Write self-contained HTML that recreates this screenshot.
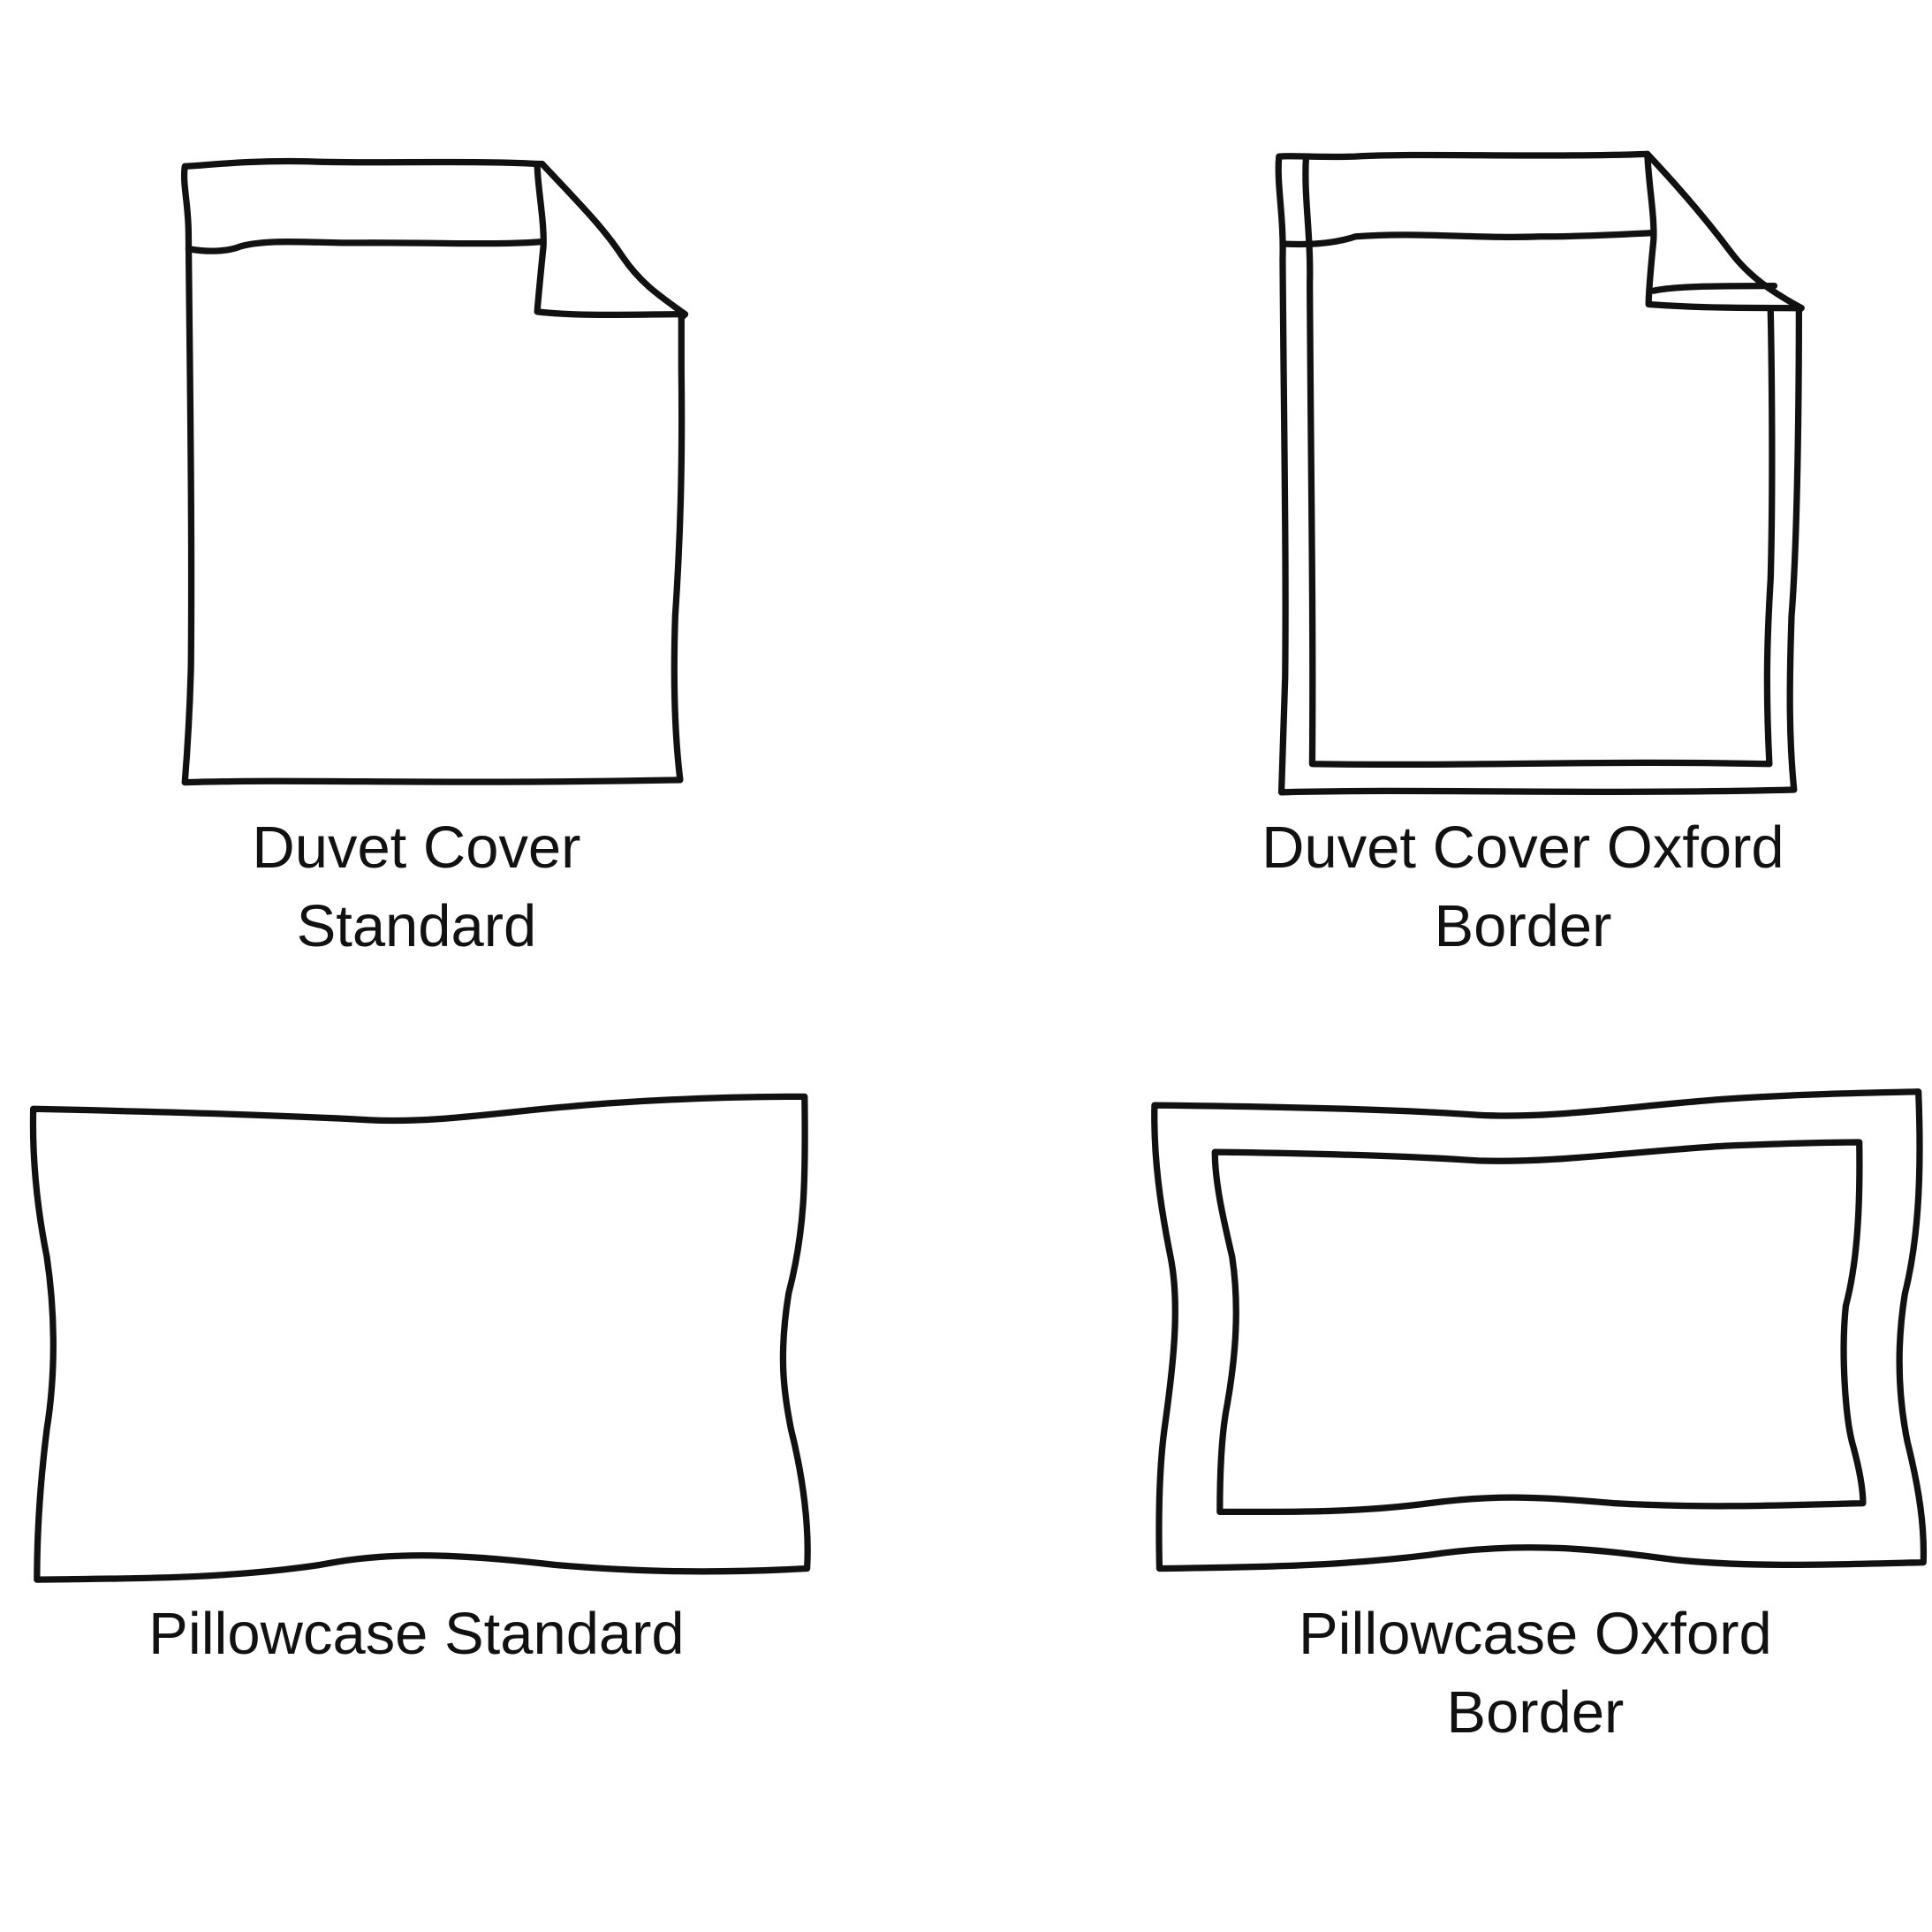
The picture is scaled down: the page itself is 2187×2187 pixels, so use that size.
<!DOCTYPE html>
<html><head><meta charset="utf-8"><style>
html,body{margin:0;padding:0;background:#fff}
svg{display:block}
text{font-family:"Liberation Sans",sans-serif;font-size:48px;fill:#111;text-anchor:middle}
</style></head><body>
<svg width="2187" height="2187" viewBox="0 0 1568 1568" xmlns="http://www.w3.org/2000/svg">
<g fill="none" stroke="#111" stroke-width="5.2" stroke-linejoin="round" stroke-linecap="round">
<path d="M436,133 C380,130 300,133 250,131 C200,130 170,134 150,135 C148,150 153,165 153,190 C154,300 156,420 155,540 C154,580 152,610 150,635 C250,632 350,637 552,633 C548,600 546,560 548,500 C552,440 554,380 553,300 L553,258"/>
<path d="M436,133 L440,133 C470,165 490,185 505,208 C520,230 535,240 556,255 L553,258"/>
<path d="M436,133 C436,150 442,180 441,200 C439,220 437,240 436,253 C470,257 520,255 556,255"/>
<path d="M153,202 C170,205 185,204 195,200 C220,193 260,198 300,197 C360,197 410,199 441,196"/>
<path d="M1337,125 C1250,128 1150,124 1100,127 C1070,128 1050,126 1038,127 C1036,150 1042,175 1041,210 C1042,350 1044,450 1043,550 C1042,590 1041,620 1040,643 C1150,640 1300,645 1456,641 C1452,600 1452,560 1454,500 C1458,450 1460,350 1460,252"/>
<path d="M1060,127 C1058,160 1064,190 1063,230 C1064,400 1066,500 1065,620 C1200,622 1300,617 1436,620 C1433,560 1434,520 1437,470 C1439,400 1438,300 1437,252"/>
<path d="M1337,125 C1370,160 1390,185 1405,205 C1420,225 1440,238 1462,250 L1460,252"/>
<path d="M1337,125 C1338,150 1343,175 1342,195 C1340,215 1338,235 1338,247 C1380,250 1420,250 1462,250"/>
<path d="M1342,236 C1360,232 1400,232 1440,232"/>
<path d="M1043,198 C1065,199 1085,197 1100,192 C1150,188 1200,194 1250,192 C1290,192 1320,190 1342,189"/>
<path d="M27,900 C120,902 230,905 300,909 C360,912 420,900 500,895 C560,891 610,890 653,890 C654,960 653,1000 640,1050 C632,1100 636,1130 642,1160 C652,1200 657,1240 655,1273 C580,1277 520,1276 450,1270 C380,1262 320,1258 260,1270 C180,1282 100,1281 30,1282 C30,1240 33,1200 38,1160 C46,1110 44,1060 38,1020 C30,980 26,940 27,900 Z"/>
<path d="M937,897 C1030,898 1130,900 1200,905 C1260,908 1320,898 1400,892 C1460,888 1510,887 1557,886 C1560,960 1556,1010 1546,1050 C1538,1100 1542,1140 1548,1170 C1558,1210 1562,1240 1561,1268 C1480,1270 1420,1272 1360,1266 C1300,1258 1240,1250 1160,1262 C1080,1272 1000,1272 941,1273 C940,1230 941,1190 945,1160 C952,1110 958,1060 950,1020 C942,980 936,940 937,897 Z"/>
<path d="M986,935 C1060,936 1140,938 1200,942 C1260,944 1320,935 1400,930 C1450,928 1480,927 1509,927 C1510,990 1506,1030 1498,1060 C1494,1100 1498,1150 1503,1170 C1510,1195 1512,1210 1512,1220 C1440,1222 1380,1224 1310,1220 C1260,1216 1220,1212 1160,1220 C1100,1228 1040,1227 990,1227 C990,1190 992,1160 996,1140 C1003,1100 1006,1060 1000,1020 C993,990 986,960 986,935 Z"/>
</g>
<text x="338" y="704">Duvet Cover</text>
<text x="338" y="768">Standard</text>
<text x="1236" y="704">Duvet Cover Oxford</text>
<text x="1236" y="768">Border</text>
<text x="338" y="1342">Pillowcase Standard</text>
<text x="1246" y="1342">Pillowcase Oxford</text>
<text x="1246" y="1406">Border</text>
</svg>
</body></html>
